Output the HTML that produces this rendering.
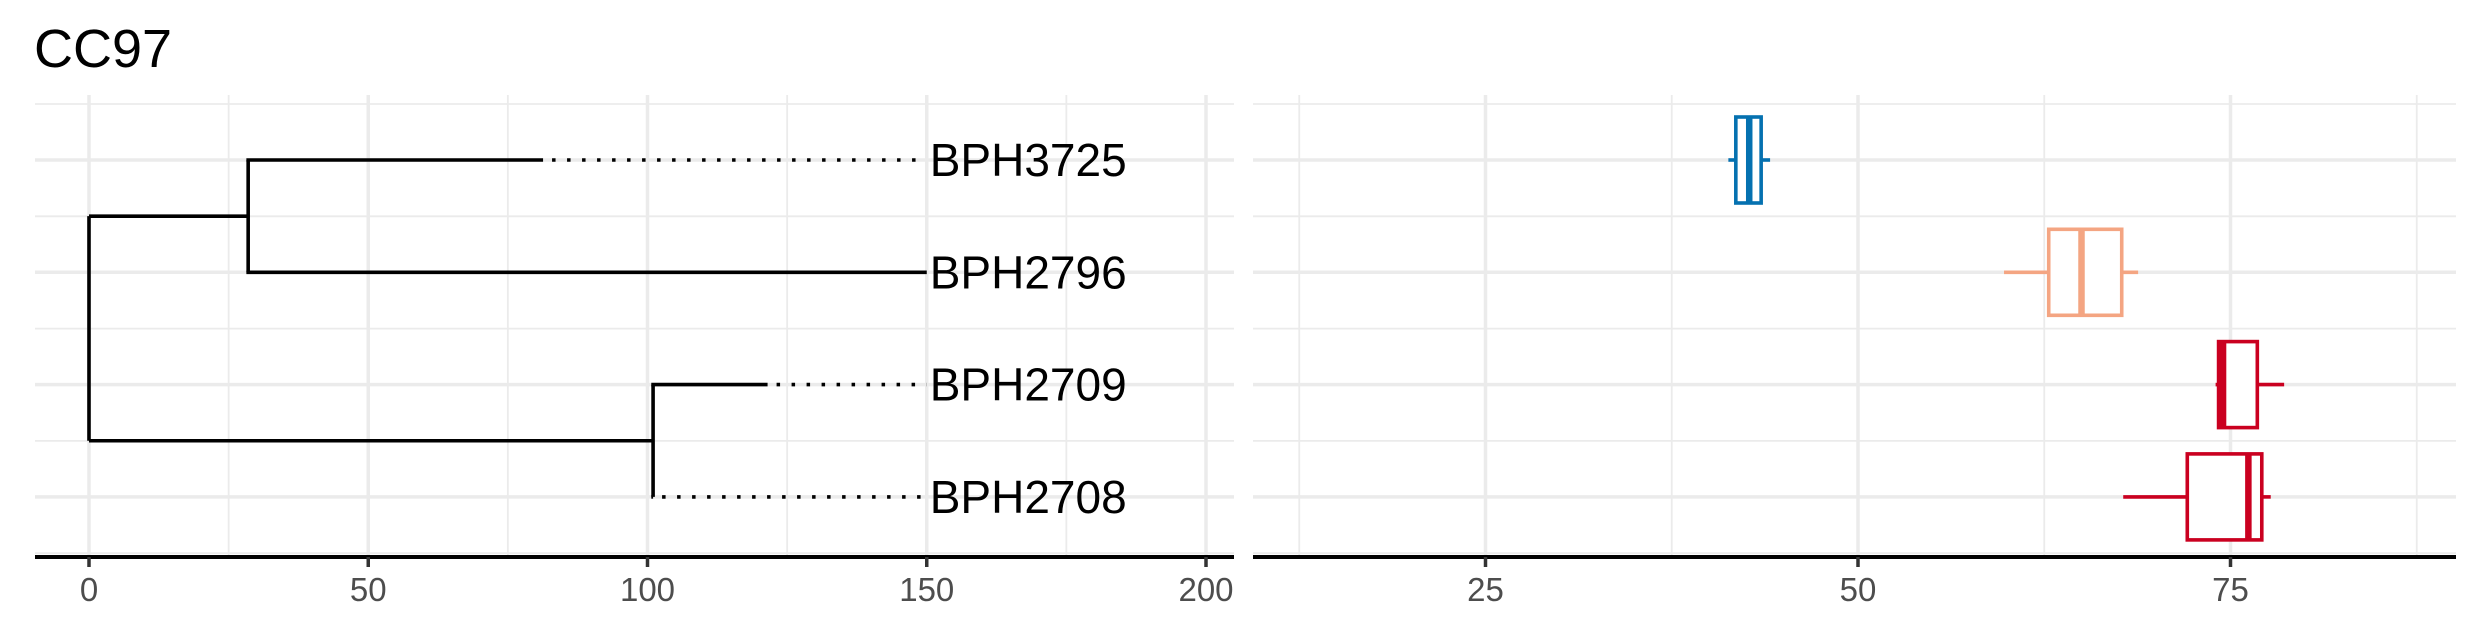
<!DOCTYPE html>
<html><head><meta charset="utf-8"><style>
html,body{margin:0;padding:0;background:#fff;}
svg{display:block;font-family:"Liberation Sans",Arial,sans-serif;}
</style></head><body>
<svg id="chart" width="2480" height="637" viewBox="0 0 2480 637">
<text x="34" y="67" font-size="54" fill="#000">CC97</text>
<g id="left"></g>
<g id="right"></g>
</svg>
<script>
const leaves = ["BPH3725","BPH2796","BPH2709","BPH2708"];
const leafSolidEnd = [81.3, 150, 121.5, 101];
const nodeHeights = [0, 28.5, 101];
const treeTicks = [0, 50, 100, 150, 200];
const boxLow = [41.3, 59.8, 74.0, 67.8];
const boxQ1 = [41.8, 62.8, 74.2, 72.1];
const boxMed = [42.7, 65.0, 74.5, 76.2];
const boxQ3 = [43.5, 67.7, 76.8, 77.1];
const boxHigh = [44.1, 68.8, 78.6, 77.7];
const boxTicks = [25, 50, 75];
const boxColors = ["#0571b0","#f4a582","#ca0020","#ca0020"];

const NS="http://www.w3.org/2000/svg";
function mk(parent, tag, attrs){const e=document.createElementNS(NS,tag);for(const k in attrs)e.setAttribute(k,attrs[k]);parent.appendChild(e);return e;}
const rowY = i => 160 + i*112.3;
const plotTop=95, axisY=557;
const lx0=35, lx1=1234;
const lx = v => 89 + v*(1206-89)/200;
const rx0=1253, rx1=2456;
const rx = v => 1858 + (v-50)*14.9;

const Lg=document.getElementById('left'), Rg=document.getElementById('right');
function grid(g, x0, x1, xs, minorXs){
  for(let i=0;i<leaves.length;i++){
    const l=mk(g,'line',{x1:x0,x2:x1,y1:rowY(i),y2:rowY(i),stroke:'#ebebeb','stroke-width':3.5});
    
    
  }
  for(let i=0;i<=leaves.length;i++){
    const y=rowY(i)-56;
    const l=mk(g,'line',{x1:x0,x2:x1,y1:y,y2:y,stroke:'#ebebeb','stroke-width':1.8});
    
    
  }
  xs.forEach(x=>{const l=mk(g,'line',{x1:x,x2:x,y1:plotTop,y2:axisY,stroke:'#ebebeb','stroke-width':3.5});
    
    });
  minorXs.forEach(x=>{const l=mk(g,'line',{x1:x,x2:x,y1:plotTop,y2:axisY,stroke:'#ebebeb','stroke-width':1.8});
    
    });
}
function axis(g,x0,x1,ticks,sc,name){
  const a=mk(g,'line',{x1:x0,x2:x1,y1:axisY,y2:axisY,stroke:'#000','stroke-width':4});
  
  
  ticks.forEach(t=>{
    const tk=mk(g,'line',{x1:sc(t),x2:sc(t),y1:axisY,y2:axisY+10,stroke:'#333','stroke-width':3.5});
    
    
    const tx=mk(g,'text',{x:sc(t),y:601,'text-anchor':'middle','font-size':33,fill:'#4d4d4d'});
    tx.textContent=t;
    
    
  });
}
const lMinor=[]; for(let v=25; v<=200; v+=50) lMinor.push(lx(v));
grid(Lg,lx0,lx1,treeTicks.map(lx),lMinor);
function seg(x1,y1,x2,y2,dash,name){
  const l=mk(Lg,'line',{x1:x1,y1:y1,x2:x2,y2:y2,stroke:'#000','stroke-width':3.6});
  if(dash){l.setAttribute('stroke-dasharray','3.5 11.5');}
  
  
}
const c1=(rowY(0)+rowY(1))/2, c2=(rowY(2)+rowY(3))/2;
seg(lx(nodeHeights[0]),c1,lx(nodeHeights[0]),c2,false,'root-branch');
seg(lx(nodeHeights[0]),c1,lx(nodeHeights[1]),c1,false,'root-branch');
seg(lx(nodeHeights[0]),c2,lx(nodeHeights[2]),c2,false,'root-branch');
seg(lx(nodeHeights[1]),rowY(0),lx(nodeHeights[1]),rowY(1),false,'cluster-branch');
seg(lx(nodeHeights[2]),rowY(2),lx(nodeHeights[2]),rowY(3),false,'cluster-branch');
const parentH=[nodeHeights[1],nodeHeights[1],nodeHeights[2],nodeHeights[2]];
leaves.forEach((n,i)=>{
  const y=rowY(i);
  seg(lx(parentH[i])-1.8,y,lx(leafSolidEnd[i]),y,false,'leaf-branch-'+n.toLowerCase());
  if(leafSolidEnd[i]<150) seg(lx(leafSolidEnd[i])+9,y,lx(150),y,true,'leaf-extension-'+n.toLowerCase());
  const t=mk(Lg,'text',{x:lx(150)+3,y:y+16,'font-size':46,fill:'#000'});
  t.textContent=n;
  
  
});
axis(Lg,lx0,lx1,treeTicks,lx,'dendrogram');
grid(Rg,rx0,rx1,boxTicks.map(rx),[12.5,37.5,62.5,87.5].map(rx));
leaves.forEach((n,i)=>{
  const y=rowY(i), c=boxColors[i], h=43;
  const g=mk(Rg,'g',{});
  
  
  const w1=mk(g,'line',{x1:rx(boxLow[i]),x2:rx(boxQ1[i]),y1:y,y2:y,stroke:c,'stroke-width':3.6});
  
  
  const w2=mk(g,'line',{x1:rx(boxQ3[i]),x2:rx(boxHigh[i]),y1:y,y2:y,stroke:c,'stroke-width':3.6});
  
  
  const b=mk(g,'rect',{x:rx(boxQ1[i]),y:y-h,width:rx(boxQ3[i])-rx(boxQ1[i]),height:2*h,fill:'#fff',stroke:c,'stroke-width':3.6});
  
  
  const m=mk(g,'line',{x1:rx(boxMed[i]),x2:rx(boxMed[i]),y1:y-h,y2:y+h,stroke:c,'stroke-width':6.5});
  
  
});
axis(Rg,rx0,rx1,boxTicks,rx,'boxplot');
</script>
</body></html>
